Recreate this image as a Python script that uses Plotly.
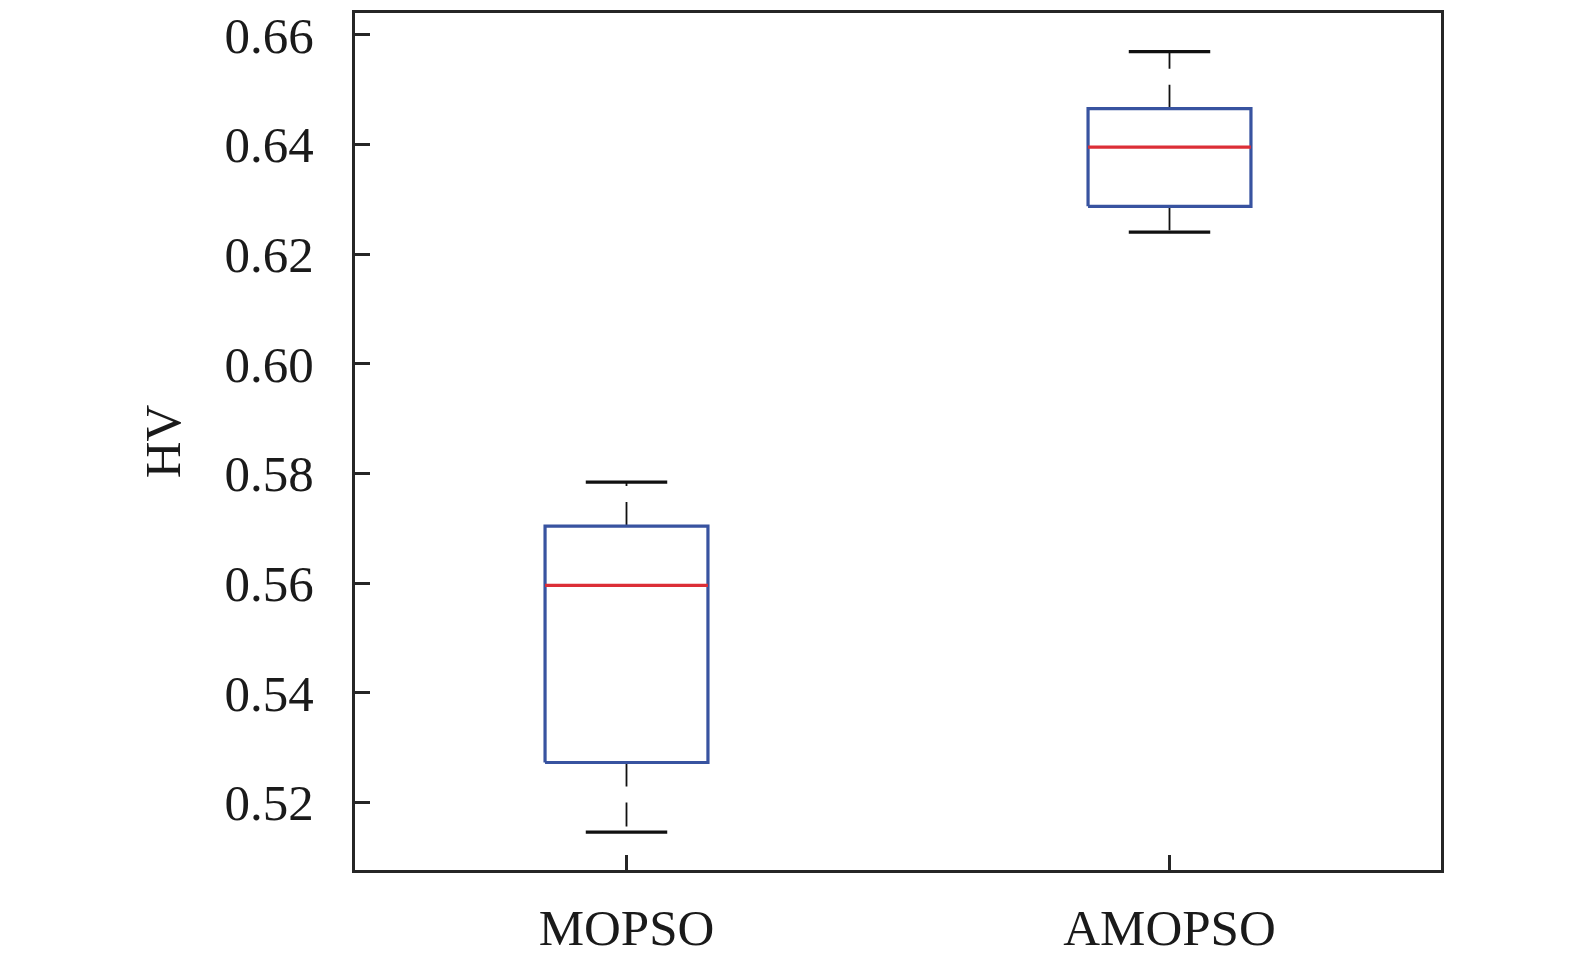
import plotly.graph_objects as go

# Data
categories = ["MOPSO", "AMOPSO"]
lower_whisker = [0.5146, 0.6240]
q1_values = [0.5273, 0.6287]
median_values = [0.5596, 0.6395]
q3_values = [0.5704, 0.6465]
upper_whisker = [0.5784, 0.6569]
y_tick_values = [0.52, 0.54, 0.56, 0.58, 0.60, 0.62, 0.64, 0.66]
y_tick_labels = ["0.52", "0.54", "0.56", "0.58", "0.60", "0.62", "0.64", "0.66"]

# Styles
BOX_HALF = 0.15
CAP_HALF = 0.075
BLUE = "#3853a0"
RED = "#dc2f37"
BLACK = "#111111"
AXIS = "#262626"
FONT = "Liberation Serif, Times New Roman, serif"

fig = go.Figure()

for i, name in enumerate(categories):
    c = i + 1
    # whiskers (dashed), drawn from box edge outward
    for y0, y1 in ((q3_values[i], upper_whisker[i]), (q1_values[i], lower_whisker[i])):
        fig.add_trace(go.Scatter(
            x=[c, c], y=[y0, y1], mode="lines",
            line=dict(color=BLACK, width=1.8, dash="24px,16px"),
            showlegend=False, hoverinfo="skip"))
    # caps
    for yv in (upper_whisker[i], lower_whisker[i]):
        fig.add_trace(go.Scatter(
            x=[c - CAP_HALF, c + CAP_HALF], y=[yv, yv], mode="lines",
            line=dict(color=BLACK, width=3.2),
            showlegend=False, hoverinfo="skip"))
    # box
    fig.add_trace(go.Scatter(
        x=[c - BOX_HALF, c + BOX_HALF, c + BOX_HALF, c - BOX_HALF, c - BOX_HALF],
        y=[q1_values[i], q1_values[i], q3_values[i], q3_values[i], q1_values[i]],
        mode="lines", line=dict(color=BLUE, width=3.2),
        showlegend=False, name=name, hoverinfo="skip"))
    # median
    fig.add_trace(go.Scatter(
        x=[c - BOX_HALF, c + BOX_HALF], y=[median_values[i], median_values[i]],
        mode="lines", line=dict(color=RED, width=3.2),
        showlegend=False, hoverinfo="skip"))

fig.update_layout(
    width=1575, height=963,
    margin=dict(l=347, r=142, t=5, b=101),
    paper_bgcolor="white", plot_bgcolor="white",
    font=dict(family=FONT, size=51, color="#1a1a1a"),
)

fig.update_xaxes(
    range=[0.5, 2.5],
    tickmode="array", tickvals=[1, 2], ticktext=categories,
    ticks="inside", ticklen=15, tickwidth=3, tickcolor=AXIS,
    showline=True, linecolor=AXIS, linewidth=3, mirror=True,
    showgrid=False, zeroline=False, automargin=False,
    ticklabelstandoff=11, ticklabeloverflow="allow",
    tickfont=dict(family=FONT, size=51),
)
fig.update_yaxes(
    range=[0.5077, 0.66395],
    tickmode="array", tickvals=y_tick_values, ticktext=y_tick_labels,
    ticks="inside", ticklen=15, tickwidth=3, tickcolor=AXIS,
    showline=True, linecolor=AXIS, linewidth=3, mirror=True,
    showgrid=False, zeroline=False, automargin=False,
    ticklabelstandoff=28, ticklabeloverflow="allow",
    tickfont=dict(family=FONT, size=51),
    title=dict(text="HV", font=dict(family=FONT, size=51), standoff=28),
)

fig.write_html("out.html")
